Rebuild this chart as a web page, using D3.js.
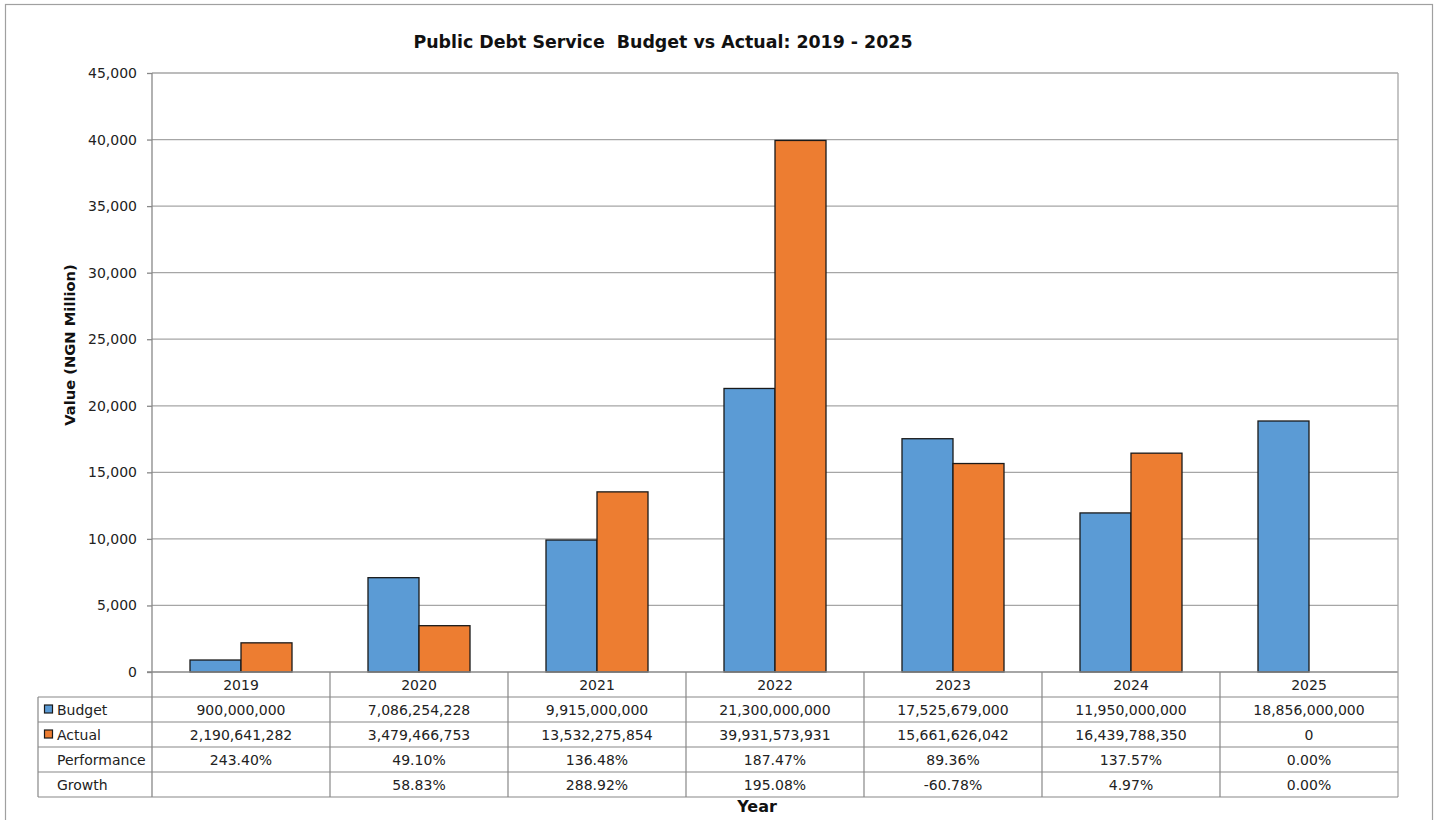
<!DOCTYPE html>
<html>
<head>
<meta charset="utf-8">
<script src="https://cdn.jsdelivr.net/npm/d3@7"></script>
<style>
  html, body { margin: 0; padding: 0; background: #fff; }
  svg { display: block; font-family: "DejaVu Sans", Verdana, sans-serif; }
</style>
</head>
<body>
<svg id="chart" width="1437" height="820"></svg>
<script>
// ---- Data ----
const years = ["2019", "2020", "2021", "2022", "2023", "2024", "2025"];
const seriesNames = ["Budget", "Actual"];
const budget = [900000000, 7086254228, 9915000000, 21300000000, 17525679000, 11950000000, 18856000000];
const actual = [2190641282, 3479466753, 13532275854, 39931573931, 15661626042, 16439788350, 0];
const performance = ["243.40%", "49.10%", "136.48%", "187.47%", "89.36%", "137.57%", "0.00%"];
const growth = ["", "58.83%", "288.92%", "195.08%", "-60.78%", "4.97%", "0.00%"];
const yTicks = [0, 5000, 10000, 15000, 20000, 25000, 30000, 35000, 40000, 45000];
const colors = { Budget: "#5B9BD5", Actual: "#ED7D31" };

// ---- Layout ----
const svg = d3.select("#chart");
const plotLeft = 152, plotRight = 1398, plotTop = 73, plotBottom = 672;
const tableLeft = 38, rowH = 25;

svg.append("rect").attr("x", 5.5).attr("y", 4.5).attr("width", 1427).attr("height", 900)
  .attr("fill", "#fff").attr("stroke", "#a0a0a0").attr("stroke-width", 1.2);

const x = d3.scaleBand().domain(years).range([plotLeft, plotRight]).paddingInner(0).paddingOuter(0);
const xs = d3.scaleBand().domain(seriesNames).range([0, x.bandwidth()]).paddingInner(0).paddingOuter(0.745);
const y = d3.scaleLinear().domain([0, 45000]).range([plotBottom, plotTop]);

// gridlines
svg.append("g").selectAll("line").data(yTicks.filter(d => d > 0)).join("line")
  .attr("x1", plotLeft).attr("x2", plotRight)
  .attr("y1", d => y(d)).attr("y2", d => y(d))
  .attr("stroke", "#a6a6a6").attr("stroke-width", 1.3);

// y axis
const yAxis = d3.axisLeft(y).tickValues(yTicks).tickFormat(d3.format(",")).tickSize(5).tickPadding(10);
const gy = svg.append("g").attr("transform", `translate(${plotLeft},0)`).call(yAxis);
gy.select(".domain").remove();
gy.selectAll(".tick line").attr("stroke", "#888").attr("stroke-width", 1.3);
gy.selectAll(".tick text").attr("font-size", 14).attr("fill", "#222")
  .attr("font-family", "DejaVu Sans, sans-serif");

// bars
const data = years.map((yr, i) => ({ year: yr, values: [
  { name: "Budget", v: budget[i] / 1e6 },
  { name: "Actual", v: actual[i] / 1e6 }
]}));
const groups = svg.append("g").selectAll("g").data(data).join("g")
  .attr("transform", d => `translate(${x(d.year)},0)`);
groups.selectAll("rect").data(d => d.values.filter(v => v.v > 0)).join("rect")
  .attr("x", d => xs(d.name)).attr("width", xs.bandwidth())
  .attr("y", d => y(d.v)).attr("height", d => y(0) - y(d.v))
  .attr("fill", d => colors[d.name]).attr("stroke", "#1a1a1a").attr("stroke-width", 1.3);

// axes lines: left axis spans plot + table, zero line
svg.append("line").attr("x1", plotLeft).attr("x2", plotLeft).attr("y1", plotTop).attr("y2", plotBottom + 5 * rowH)
  .attr("stroke", "#888").attr("stroke-width", 1.3);
svg.append("line").attr("x1", plotLeft - 5).attr("x2", plotRight).attr("y1", plotBottom).attr("y2", plotBottom)
  .attr("stroke", "#888").attr("stroke-width", 1.3);
svg.append("line").attr("x1", plotRight).attr("x2", plotRight).attr("y1", plotTop).attr("y2", plotBottom + 5 * rowH)
  .attr("stroke", "#a6a6a6").attr("stroke-width", 1.3);

// ---- Data table ----
const table = svg.append("g");
for (let r = 1; r <= 5; r++) {
  table.append("line").attr("x1", tableLeft).attr("x2", plotRight)
    .attr("y1", plotBottom + r * rowH).attr("y2", plotBottom + r * rowH)
    .attr("stroke", "#888").attr("stroke-width", 1.2);
}
table.append("line").attr("x1", tableLeft).attr("x2", tableLeft)
  .attr("y1", plotBottom + rowH).attr("y2", plotBottom + 5 * rowH)
  .attr("stroke", "#888").attr("stroke-width", 1.2);
table.selectAll("line.col").data(years.slice(1)).join("line").attr("class", "col")
  .attr("x1", d => x(d)).attr("x2", d => x(d))
  .attr("y1", plotBottom).attr("y2", plotBottom + 5 * rowH)
  .attr("stroke", "#888").attr("stroke-width", 1.2);

const fmt = d3.format(",");
const rows = [
  { label: null, cells: years },
  { label: "Budget", key: "Budget", cells: budget.map(fmt) },
  { label: "Actual", key: "Actual", cells: actual.map(fmt) },
  { label: "Performance", cells: performance },
  { label: "Growth", cells: growth }
];
rows.forEach((row, r) => {
  const cy = plotBottom + r * rowH + rowH / 2;
  table.selectAll(null).data(row.cells).join("text")
    .attr("x", (d, i) => x(years[i]) + x.bandwidth() / 2).attr("y", cy).attr("dy", "0.36em")
    .attr("text-anchor", "middle").attr("font-size", 14).attr("fill", "#222").text(d => d);
  if (row.label) {
    table.append("text").attr("x", 57).attr("y", cy).attr("dy", "0.36em")
      .attr("font-size", 14).attr("fill", "#222").text(row.label);
  }
  if (row.key) {
    table.append("rect").attr("x", 44.5).attr("y", cy - 4.5).attr("width", 8).attr("height", 8)
      .attr("fill", colors[row.key]).attr("stroke", "#1a1a1a").attr("stroke-width", 1.2);
  }
});

// ---- Titles ----
svg.append("text").attr("x", 663).attr("y", 48).attr("text-anchor", "middle")
  .attr("font-size", 17.4).attr("font-weight", "bold").attr("fill", "#111")
  .style("white-space", "pre").text("Public Debt Service  Budget vs Actual: 2019 - 2025");
svg.append("text").attr("transform", "translate(75,345) rotate(-90)").attr("text-anchor", "middle")
  .attr("font-size", 14.7).attr("font-weight", "bold").attr("fill", "#111").text("Value (NGN Million)");
svg.append("text").attr("x", 757).attr("y", 812).attr("text-anchor", "middle")
  .attr("font-size", 16).attr("font-weight", "bold").attr("fill", "#111").text("Year");
</script>
</body>
</html>
